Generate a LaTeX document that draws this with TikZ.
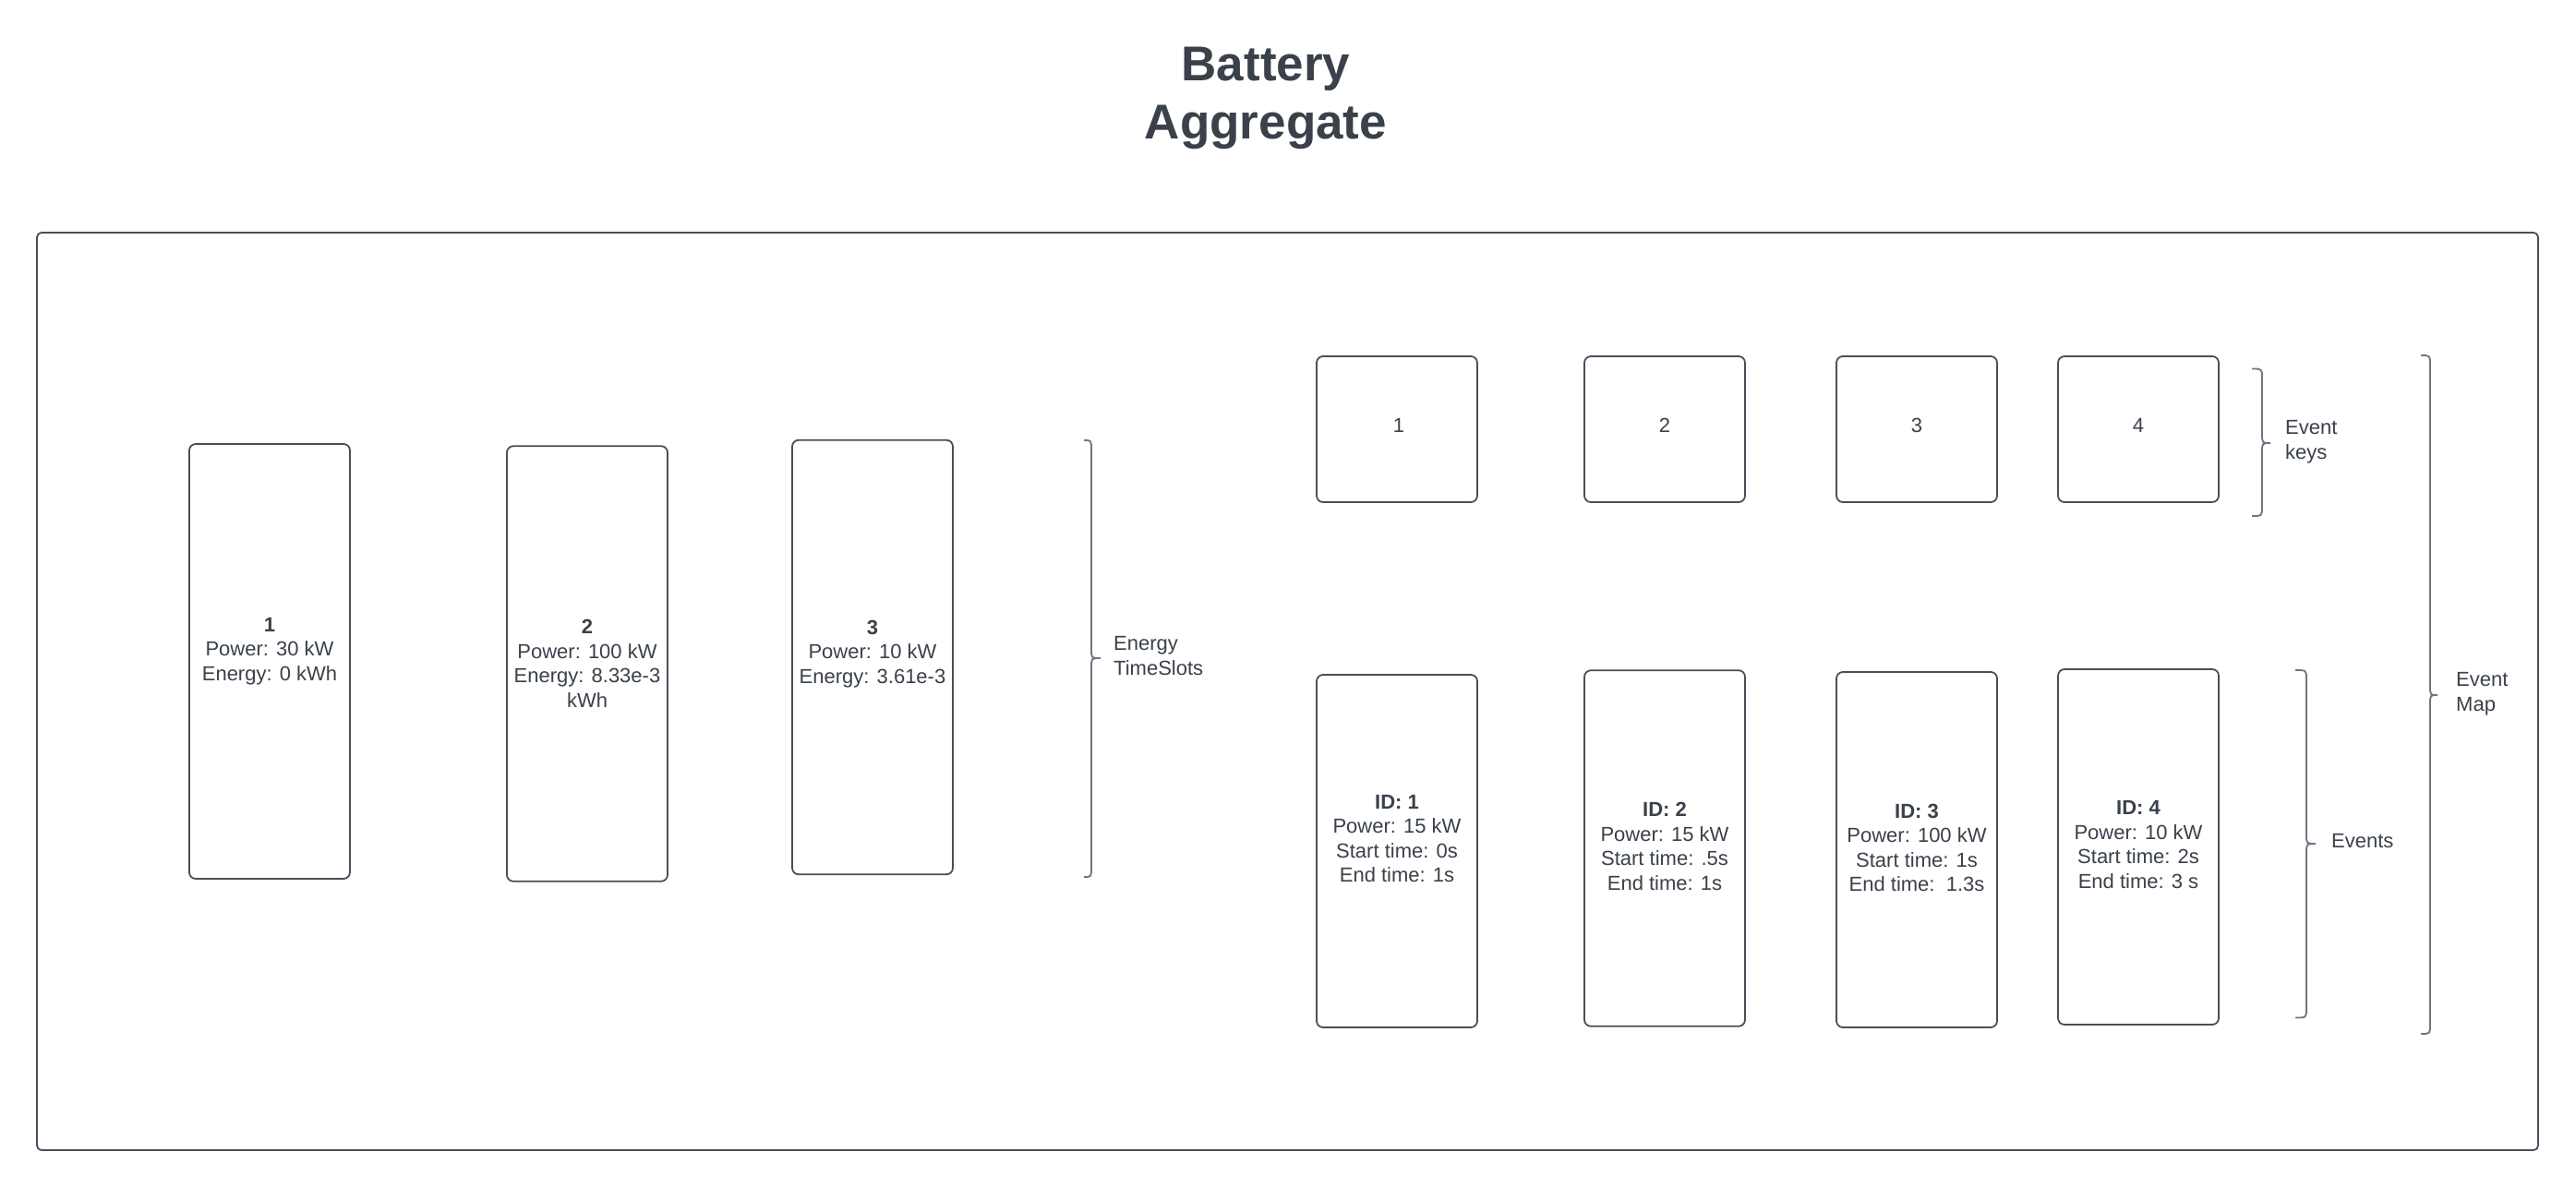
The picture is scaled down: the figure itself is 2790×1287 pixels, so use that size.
\documentclass[tikz,border=0pt]{standalone}
\usepackage{fontspec}
\setmainfont{Liberation Sans}
\definecolor{ink}{HTML}{3A414A}
\definecolor{edge}{HTML}{474F5A}
\definecolor{bracec}{HTML}{6E7580}
\newcommand{\mybrace}[6]{%
  \draw[bracepath] (#1,#4) .. controls (#2,#4) .. (#2,#4+10) -- (#2,#6-10)
    .. controls (#2,#6) .. (#3,#6) .. controls (#2,#6) .. (#2,#6+10)
    -- (#2,#5-10) .. controls (#2,#5) .. (#1,#5);}
\begin{document}
\begin{tikzpicture}[x=1pt,y=-1pt,
  box/.style={draw=edge, line width=1.8pt, rounded corners=7pt, inner sep=0pt, minimum width=174pt},
  txt/.style={text=ink, font=\fontsize{22}{26.5}\selectfont, align=center, inner sep=0pt},
  lbl/.style={text=ink, font=\fontsize{22}{26.5}\selectfont, align=left, inner sep=0pt, anchor=west},
  ttl/.style={text=ink, font=\fontsize{53}{62}\selectfont\bfseries, anchor=base, inner sep=0pt},
  bracepath/.style={draw=bracec, line width=1.8pt}]
\useasboundingbox (0,0) rectangle (2790,1287);
\fill[white] (0,0) rectangle (2790,1287);
% title
\node[ttl] (t1) at (1371,88) {Battery};
\node[ttl] (t2) at (1371,150) {Aggregate};
% outer frame
\node[draw=edge, line width=1.8pt, rounded corners=5pt, inner sep=0pt,
      minimum width=2709pt, minimum height=994pt] (outer) at (1394.5,749) {};
% energy time slots
\node[box, minimum height=471pt] (s1) at (292,716.5) {};
\node[box, minimum height=471.5pt] (s2) at (636,719) {};
\node[box, minimum height=470.5pt] (s3) at (945,712) {};
\node[txt] (s1t) at (292,705.5) {\textbf{1}\\Power: 30 kW\\Energy: 0 kWh};
\node[txt] (s2t) at (636,719) {\textbf{2}\\Power: 100 kW\\Energy: 8.33e-3\\kWh};
\node[txt] (s3t) at (945,708.5) {\textbf{3}\\Power: 10 kW\\Energy: 3.61e-3};
\mybrace{1174}{1182}{1192}{477}{950}{713}
\node[lbl] (ets) at (1206,710.5) {Energy\\TimeSlots};
% event keys
\node[box, minimum height=158pt] (k1) at (1513,465) {};
\node[box, minimum height=158pt] (k2) at (1803,465) {};
\node[box, minimum height=158pt] (k3) at (2076,465) {};
\node[box, minimum height=158pt] (k4) at (2316,465) {};
\node[txt] (k1t) at (1515,461) {1};
\node[txt] (k2t) at (1803,461) {2};
\node[txt] (k3t) at (2076,461) {3};
\node[txt] (k4t) at (2316,461) {4};
\mybrace{2439}{2450}{2459}{399.5}{559}{480}
\node[lbl] (ek) at (2475,478.5) {Event\\keys};
% events
\node[box, minimum height=382pt] (e1) at (1513,922) {};
\node[box, minimum height=385.5pt] (e2) at (1803,919) {};
\node[box, minimum height=385pt] (e3) at (2076,920.5) {};
\node[box, minimum height=385pt] (e4) at (2316,917.5) {};
\node[txt] (e1t) at (1513,908.5) {\textbf{ID: 1}\\Power: 15 kW\\Start time: 0s\\End time: 1s};
\node[txt] (e2t) at (1803,917) {\textbf{ID: 2}\\Power: 15 kW\\Start time: .5s\\End time: 1s};
\node[txt] (e3t) at (2076,918.5) {\textbf{ID: 3}\\Power: 100 kW\\Start time: 1s\\End time:\ \ 1.3s};
\node[txt] (e4t) at (2316,915) {\textbf{ID: 4}\\Power: 10 kW\\Start time: 2s\\End time: 3 s};
\mybrace{2486}{2498}{2508}{726}{1102.5}{914}
\node[lbl] (ev) at (2525,911) {Events};
% event map
\mybrace{2622}{2632}{2640}{385}{1120}{753}
\node[lbl] (em) at (2660,751.5) {Event\\Map};
\end{tikzpicture}
\end{document}
